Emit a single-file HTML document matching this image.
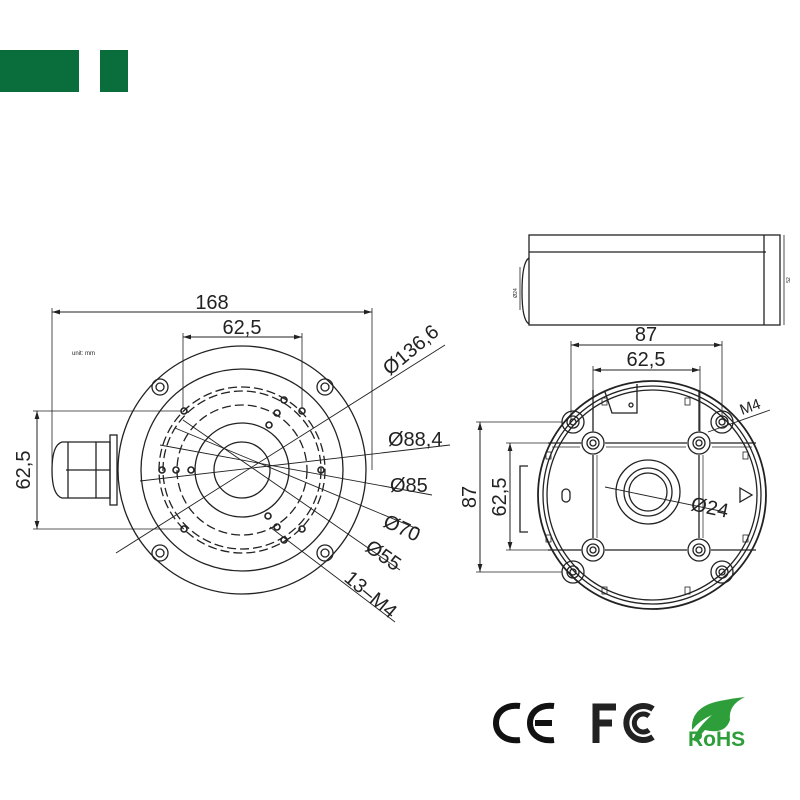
<!DOCTYPE html>
<html><head><meta charset="utf-8"><style>
html,body{margin:0;padding:0;background:#fff}
svg{display:block}
text{font-family:"Liberation Sans",sans-serif;fill:#222}
</style></head><body>
<svg width="800" height="800" viewBox="0 0 800 800" xmlns="http://www.w3.org/2000/svg">
<defs>
<marker id="a" viewBox="0 0 10 6" refX="10" refY="3" markerWidth="8" markerHeight="5" orient="auto-start-reverse"><path d="M0,0L10,3L0,6z" fill="#222"/></marker>
</defs>
<rect x="0" y="50" width="79" height="42" fill="#0a6e3c"/>
<rect x="100" y="50" width="28" height="42" fill="#0a6e3c"/>

<g stroke="#222" fill="none" stroke-width="1.3">
<circle cx="242" cy="470" r="124"/>
<circle cx="242" cy="470" r="101"/>
<circle cx="242" cy="470" r="83" stroke-dasharray="9,4"/>
<circle cx="242" cy="470" r="79" stroke-dasharray="9,4"/>
<circle cx="242" cy="470" r="65" stroke-dasharray="9,4"/>
<circle cx="242" cy="470" r="47"/>
<circle cx="242" cy="470" r="28"/>
<g>
<circle cx="160" cy="387" r="8"/><circle cx="160" cy="387" r="4"/>
<circle cx="325" cy="387" r="8"/><circle cx="325" cy="387" r="4"/>
<circle cx="160" cy="553" r="8"/><circle cx="160" cy="553" r="4"/>
<circle cx="325" cy="553" r="8"/><circle cx="325" cy="553" r="4"/>
</g>
<g stroke-width="1.6">
<circle cx="184" cy="411" r="3"/><circle cx="302" cy="411" r="3"/><circle cx="184" cy="529" r="3"/><circle cx="302" cy="529" r="3"/>
<circle cx="284" cy="400" r="3"/><circle cx="277" cy="413" r="3"/><circle cx="269" cy="425" r="3"/>
<circle cx="162" cy="470" r="3"/><circle cx="176" cy="470" r="3"/><circle cx="191" cy="470" r="3"/>
<circle cx="321" cy="470" r="3"/>
<circle cx="268" cy="516" r="3"/><circle cx="277" cy="527" r="3"/><circle cx="284" cy="540" r="3"/>
</g>
<rect x="110" y="435" width="7" height="70"/>
<rect x="96" y="442" width="14" height="56"/>
<path d="M96,442 H62 Q52,445 52,470 Q52,495 62,498 H96"/>
<line x1="66" y1="470" x2="110" y2="470"/>
<line x1="68" y1="442" x2="68" y2="498"/>
<line x1="52" y1="312" x2="372" y2="312" marker-start="url(#a)" marker-end="url(#a)" stroke-width="1"/>
<line x1="52" y1="308" x2="52" y2="470" stroke-width="0.8"/>
<line x1="372" y1="308" x2="372" y2="470" stroke-width="0.8"/>
<line x1="183" y1="337" x2="302" y2="337" marker-start="url(#a)" marker-end="url(#a)" stroke-width="1"/>
<line x1="183" y1="333" x2="183" y2="408" stroke-width="0.8"/>
<line x1="302" y1="333" x2="302" y2="408" stroke-width="0.8"/>
<line x1="37" y1="411" x2="37" y2="529" marker-start="url(#a)" marker-end="url(#a)" stroke-width="1"/>
<line x1="33" y1="411" x2="181" y2="411" stroke-width="0.8"/>
<line x1="33" y1="529" x2="181" y2="529" stroke-width="0.8"/>
<g stroke-width="0.9">
<line x1="116" y1="553" x2="445" y2="345"/>
<line x1="140" y1="481" x2="450" y2="445"/>
<line x1="160" y1="445" x2="432" y2="495"/>
<line x1="175" y1="428" x2="420" y2="530"/>
<line x1="183" y1="420" x2="400" y2="570"/>
<line x1="270" y1="527" x2="395" y2="622"/>
</g>

<rect x="529" y="235" width="251" height="90"/>
<line x1="529" y1="252" x2="766" y2="252"/>
<line x1="764" y1="235" x2="764" y2="325"/>
<path d="M529,258 Q522,262 522,292 Q522,320 529,324"/>
<line x1="520" y1="267" x2="520" y2="310" stroke-width="0.8"/>
<line x1="784" y1="235" x2="784" y2="325" stroke-width="0.8"/>

<circle cx="652" cy="495" r="114" stroke-width="1.8"/>
<circle cx="652" cy="495" r="109"/>
<circle cx="652" cy="495" r="105"/>
<path d="M548,443 H581 M605,443 H687 M711,443 H756 M548,550 H581 M605,550 H687 M711,550 H756 M593,455 V538 M699,455 V538 M593,431 V390 M699,431 V390"/>
<path d="M552,447 H580 M606,447 H686 M712,447 H752 M597,455 V538 M703,455 V538" stroke-width="0.7"/>
<g>
<circle cx="593" cy="443" r="11"/><circle cx="593" cy="443" r="6"/><circle cx="593" cy="443" r="3"/>
<circle cx="699" cy="443" r="11"/><circle cx="699" cy="443" r="6"/><circle cx="699" cy="443" r="3"/>
<circle cx="593" cy="550" r="11"/><circle cx="593" cy="550" r="6"/><circle cx="593" cy="550" r="3"/>
<circle cx="699" cy="550" r="11"/><circle cx="699" cy="550" r="6"/><circle cx="699" cy="550" r="3"/>
<circle cx="573" cy="422" r="11"/><circle cx="573" cy="422" r="6"/><circle cx="573" cy="422" r="3"/>
<circle cx="722" cy="422" r="11"/><circle cx="722" cy="422" r="6"/><circle cx="722" cy="422" r="3"/>
<circle cx="573" cy="572" r="11"/><circle cx="573" cy="572" r="6"/><circle cx="573" cy="572" r="3"/>
<circle cx="722" cy="572" r="11"/><circle cx="722" cy="572" r="6"/><circle cx="722" cy="572" r="3"/>
</g>
<circle cx="648" cy="492" r="32"/>
<circle cx="648" cy="492" r="24"/>
<circle cx="648" cy="492" r="19"/>
<path d="M605,392 L612,413 H637 V384"/>
<circle cx="631" cy="405" r="2"/>
<rect x="562" y="489" width="8" height="13" rx="4"/>
<path d="M740,488 L752,495 L740,502 Z"/>
<path d="M528,466 H520 V532 H528"/>
<line x1="605" y1="487" x2="725" y2="512" stroke-width="0.9"/>
<g stroke-width="0.8">
<rect x="602" y="398" width="5" height="7"/><rect x="685" y="398" width="5" height="7"/>
<rect x="546" y="452" width="5" height="7"/><rect x="743" y="452" width="5" height="7"/>
<rect x="546" y="535" width="5" height="7"/><rect x="743" y="535" width="5" height="7"/>
<rect x="602" y="587" width="5" height="7"/><rect x="685" y="587" width="5" height="7"/>
</g>
<line x1="571" y1="345" x2="722" y2="345" marker-start="url(#a)" marker-end="url(#a)" stroke-width="1"/>
<line x1="571" y1="341" x2="571" y2="420" stroke-width="0.8"/>
<line x1="722" y1="341" x2="722" y2="420" stroke-width="0.8"/>
<line x1="593" y1="370" x2="700" y2="370" marker-start="url(#a)" marker-end="url(#a)" stroke-width="1"/>
<line x1="593" y1="366" x2="593" y2="432" stroke-width="0.8"/>
<line x1="700" y1="366" x2="700" y2="432" stroke-width="0.8"/>
<line x1="480" y1="422" x2="480" y2="572" marker-start="url(#a)" marker-end="url(#a)" stroke-width="1"/>
<line x1="476" y1="422" x2="562" y2="422" stroke-width="0.8"/>
<line x1="476" y1="572" x2="562" y2="572" stroke-width="0.8"/>
<line x1="510" y1="443" x2="510" y2="550" marker-start="url(#a)" marker-end="url(#a)" stroke-width="1"/>
<line x1="506" y1="443" x2="582" y2="443" stroke-width="0.8"/>
<line x1="506" y1="550" x2="582" y2="550" stroke-width="0.8"/>
<line x1="708" y1="432" x2="770" y2="410" stroke-width="0.9"/>
</g>

<text x="212" y="309" font-size="20" text-anchor="middle">168</text>
<text x="242" y="334" font-size="20" text-anchor="middle">62,5</text>
<text x="72" y="355" font-size="6">unit: mm</text>
<text transform="translate(30,470) rotate(-90)" font-size="20" text-anchor="middle">62,5</text>
<text transform="translate(415,355) rotate(-40)" font-size="20" text-anchor="middle">Ø136,6</text>
<text x="388" y="446" font-size="20">Ø88,4</text>
<text x="390" y="492" font-size="20">Ø85</text>
<text transform="translate(382,526) rotate(25)" font-size="20">Ø70</text>
<text transform="translate(364,550) rotate(35)" font-size="20">Ø55</text>
<text transform="translate(343,580) rotate(40)" font-size="20">13–M4</text>
<text x="646" y="341" font-size="20" text-anchor="middle">87</text>
<text x="646" y="366" font-size="20" text-anchor="middle">62,5</text>
<text transform="translate(476,497) rotate(-90)" font-size="20" text-anchor="middle">87</text>
<text transform="translate(506,497) rotate(-90)" font-size="20" text-anchor="middle">62,5</text>
<text transform="translate(690,510) rotate(12)" font-size="20">Ø24</text>
<text transform="translate(742,415) rotate(-20)" font-size="15">M4</text>
<text transform="translate(517,293) rotate(-90)" font-size="5" text-anchor="middle">Ø24</text>
<text transform="translate(790,280) rotate(-90)" font-size="5" text-anchor="middle">52</text>

<g fill="none" stroke="#111" stroke-width="6">
<path d="M520,706 C488,702 488,744 520,740"/>
<path d="M554,706 C522,702 522,744 554,740 M535,723 H552"/>
<path d="M596,743 V707 H616 M596,723 H612" stroke="#222" stroke-width="7"/>
<path d="M653,709 A17,17 0 1 0 653,737" stroke="#222" stroke-width="6"/>
<path d="M649,716 A9,9 0 1 0 649,730" stroke="#222" stroke-width="5"/>
</g>
<text x="516" y="715" font-size="1" style="fill:#fff">CE FC</text>
<path d="M692,730 Q690,705 725,700 Q735,698 745,697 Q728,705 730,720 Q725,735 705,730 Q700,735 697,742 L693,740 Q697,728 712,715 Q700,720 692,730Z" fill="#2e9e3a"/>
<text x="688" y="746" font-size="21" font-weight="bold" style="fill:#2e9e3a">RoHS</text>
</svg>
</body></html>
